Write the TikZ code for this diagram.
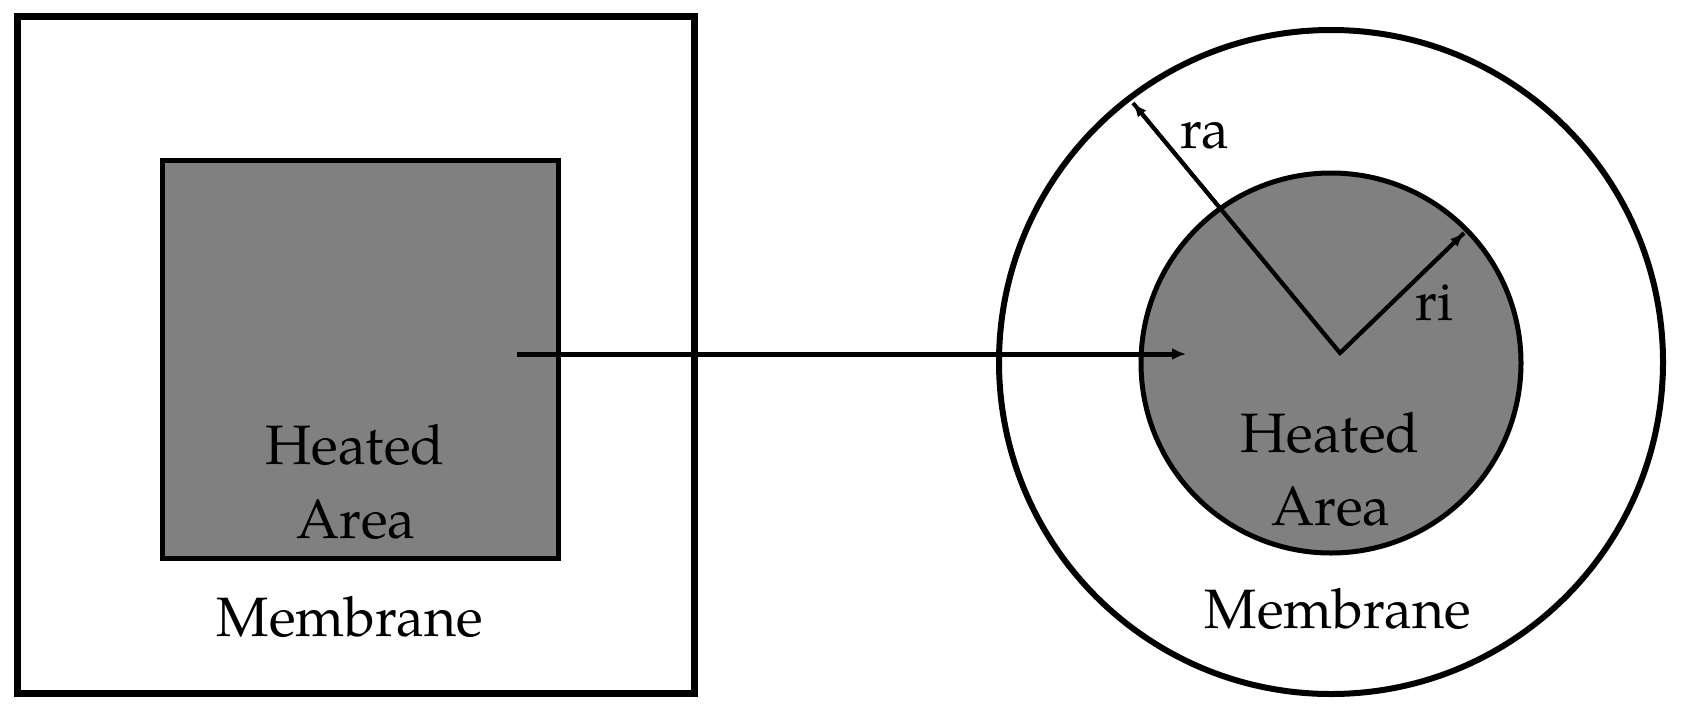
\documentclass[tikz,border=0pt]{standalone}
\usepackage{fontspec}
\setmainfont{TeX Gyre Pagella}
\usetikzlibrary{arrows.meta}
\definecolor{heatgray}{RGB}{128,128,128}
\tikzset{
  framebox/.style={draw=black, line width=7pt},
  heatbox/.style={draw=black, fill=heatgray, line width=5pt},
  ringline/.style={draw=black, line width=6pt},
  mainarrow/.style={line width=5pt, -{Latex[length=14pt,width=12pt]}},
  radarrow/.style={line width=4pt, -{Latex[length=14pt,width=11pt]}},
  lbl/.style={font=\fontsize{55.5}{74}\selectfont, inner sep=0pt, anchor=base},
}
\begin{document}
\begin{tikzpicture}[x=1pt,y=-1pt]
\useasboundingbox (0,0) rectangle (1681,713);
\fill[white] (0,0) rectangle (1681,713);
% left: square membrane
\draw[framebox] (17,16) rectangle (694,693);
\draw[heatbox] (162,160) rectangle (558,558);
\node[lbl] (lheated) at (355,464) {Heated};
\node[lbl] (larea) at (356,538) {Area};
\node[lbl] (lmem) at (350,636) {Membrane};
% right: circular membrane
\coordinate (cc) at (1331,362);
\draw[ringline] (cc) circle[radius=332];
\draw[heatbox] (1331,363) circle[radius=190];
\node[lbl] (rheated) at (1330,452) {Heated};
\node[lbl] (rarea) at (1331,525) {Area};
\node[lbl] (rmem) at (1338,628) {Membrane};
\coordinate (vert) at (1340,353);
\coordinate (ratip) at (1133,103);
\coordinate (ritip) at (1464,233);
\draw[line width=4pt, line join=miter] (ratip) -- (vert) -- (ritip);
\draw[radarrow] (vert) -- (ratip);
\draw[radarrow] (vert) -- (ritip);
\node[lbl, anchor=base west] (ra) at (1180,148) {ra};
\node[lbl, anchor=base west] (ri) at (1415,320) {ri};
% connecting arrow
\coordinate (astart) at (517,354);
\coordinate (aend) at (1186,354);
\draw[mainarrow] (astart) -- (aend);
\end{tikzpicture}
\end{document}
